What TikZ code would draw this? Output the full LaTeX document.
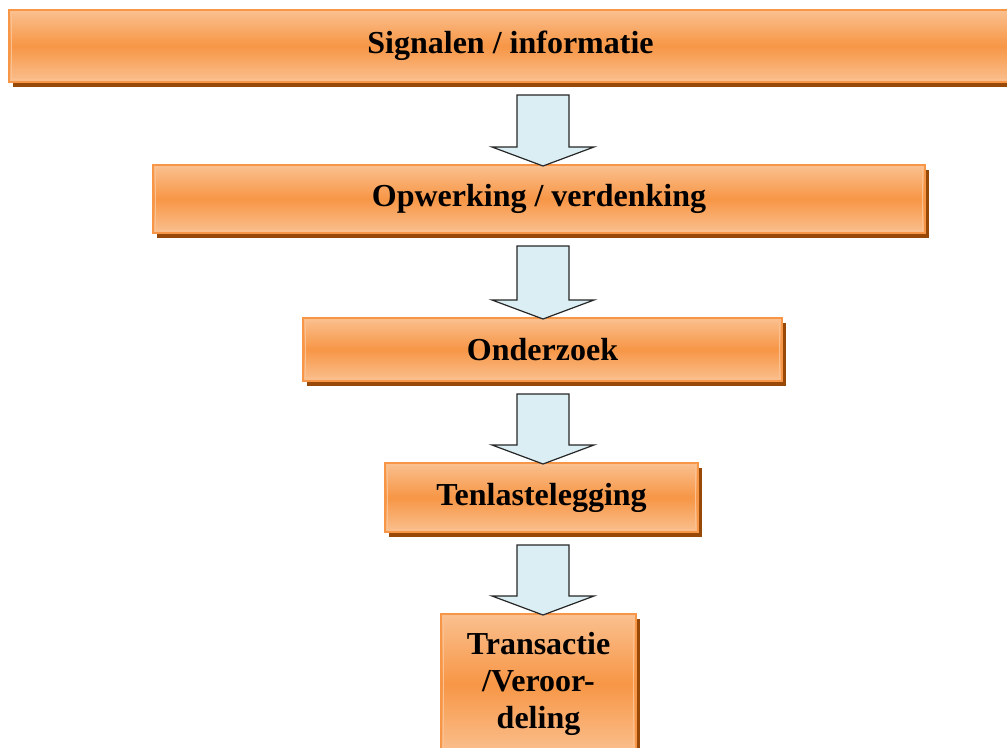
\documentclass[tikz,border=0pt]{standalone}
\usepackage{fontspec}
\setmainfont{Liberation Serif}
\usetikzlibrary{calc,shadows}
\definecolor{boxmid}{HTML}{F79646}
\definecolor{boxlight}{HTML}{FAC08F}
\definecolor{boxshadow}{HTML}{984807}
\definecolor{arrowfill}{HTML}{DAEEF3}
\tikzset{
  flowbox/.style={rectangle, draw=boxmid, line width=1.5pt,
    top color=boxlight, bottom color=boxlight, middle color=boxmid,
    drop shadow={shadow xshift=3pt, shadow yshift=-3.75pt, opacity=1, fill=boxshadow},
    path picture={\draw[boxlight, line width=0.8pt]
      ($(path picture bounding box.south west)+(2.5,-2.5)$) rectangle
      ($(path picture bounding box.north east)+(-2.5,2.5)$);},
    font=\bfseries\fontsize{24}{28}\selectfont, text=black, align=center, inner sep=0pt},
  barrow/.style={draw=black!85, line width=0.9pt, fill=arrowfill, line join=miter}
}
\newcommand\flowarrow[2]{%
  \draw[barrow] ($(ax |- #1.south)+(-26,12)$) -- ($(ax |- #1.south)+(26,12)$)
    -- ($(ax |- #2.north)+(26,-17)$) -- ($(ax |- #2.north)+(51,-17)$)
    -- ($(ax |- #2.north)+(0,2)$) -- ($(ax |- #2.north)+(-51,-17)$)
    -- ($(ax |- #2.north)+(-26,-17)$) -- cycle;}
\begin{document}
\begin{tikzpicture}[x=0.75pt, y=-0.75pt]
\useasboundingbox (0,0) rectangle (1007,747);
\clip (0,0) rectangle (1007,747);
\coordinate (ax) at (543,0);
\node[flowbox, minimum width=1003*0.75pt, minimum height=72*0.75pt] (b1) at (510.5,46) {Signalen / informatie};
\node[flowbox, minimum width=772*0.75pt, minimum height=68*0.75pt] (b2) at (539,199) {Opwerking / verdenking};
\node[flowbox, minimum width=479*0.75pt, minimum height=63*0.75pt] (b3) at (542.5,349.5) {Onderzoek};
\node[flowbox, minimum width=313*0.75pt, minimum height=69*0.75pt] (b4) at (541.5,497.5) {Tenlastelegging};
\node[flowbox, minimum width=195*0.75pt, minimum height=140*0.75pt] (b5) at (538.5,684) {Transactie\\/Veroor-\\deling};
\flowarrow{b1}{b2}
\flowarrow{b2}{b3}
\flowarrow{b3}{b4}
\flowarrow{b4}{b5}
\end{tikzpicture}
\end{document}
